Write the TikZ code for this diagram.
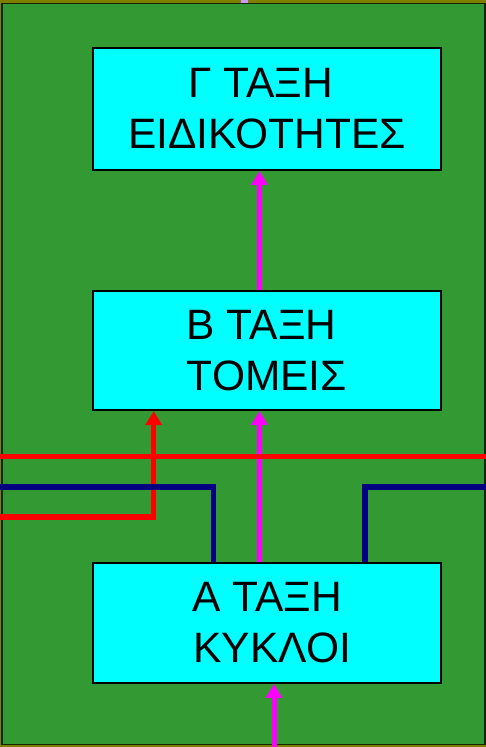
\documentclass[tikz,border=0pt]{standalone}
\usepackage{fontspec}
\setmainfont{Liberation Sans}
\usetikzlibrary{arrows.meta}
\definecolor{bggreen}{RGB}{51,153,51}
\definecolor{frameolive}{RGB}{128,128,0}
\definecolor{framedark}{RGB}{20,36,0}
\definecolor{boxcyan}{RGB}{0,255,255}
\definecolor{navyline}{RGB}{0,0,128}
\definecolor{marker}{RGB}{204,153,255}
\definecolor{magline}{RGB}{255,0,255}
\definecolor{redcol}{RGB}{255,0,0}
\tikzset{
  levelbox/.style={draw=black, line width=2pt, fill=boxcyan, minimum width=348pt,
    inner sep=0pt, align=center, font=\fontsize{42.5}{51}\selectfont},
  magarrow/.style={draw=magline, line width=5pt, -{Triangle[width=16pt,length=14pt]}},
  redline/.style={draw=redcol, line width=5.5pt},
  redarrow/.style={draw=redcol, line width=5.5pt, -{Triangle[width=16pt,length=14pt]}},
  navy/.style={draw=navyline, line width=5.5pt},
}
\begin{document}
\begin{tikzpicture}[x=1pt,y=-1pt]
\useasboundingbox (0,0) rectangle (486,747);
\fill[frameolive] (0,0) rectangle (486,747);
\filldraw[fill=bggreen, draw=framedark, line width=1.5pt] (2,3.5) rectangle (485,744.5);
\fill[marker] (241,0) rectangle (248,3);

\node[levelbox, minimum height=122pt] (C) at (267,109) {Γ ΤΑΞΗ\hspace*{0.3em}\\ΕΙΔΙΚΟΤΗΤΕΣ};
\node[levelbox, minimum height=119pt] (B) at (267,350.5) {Β ΤΑΞΗ\hspace*{0.25em}\\ ΤΟΜΕΙΣ};
\node[levelbox, minimum height=120pt] (A) at (267,623) {Α ΤΑΞΗ\\\hspace*{0.25em}ΚΥΚΛΟΙ};

\coordinate (magCol) at (259.5,0);
\coordinate (inlet) at (274,747);
\coordinate (redW) at (0,456.5);
\coordinate (redE) at (486,456.5);
\coordinate (redL) at (0,517);
\coordinate (redCol) at (153.7,517);
\coordinate (navyW) at (0,487);
\coordinate (navyLcol) at (213.7,487);
\coordinate (navyE) at (486,487);
\coordinate (navyRcol) at (365,487);

\draw[magarrow] (B.north -| magCol) -- (C.south -| magCol);
\draw[magarrow] (A.north -| magCol) -- (B.south -| magCol);
\draw[magarrow] (inlet) -- (inlet |- A.south);

\draw[redline] (redW) -- (redE);
\draw[redarrow] (redL) -- (redCol) -- (redCol |- B.south);

\draw[navy] (navyW) -- (navyLcol) -- (navyLcol |- A.north);
\draw[navy] (navyE) -- (navyRcol) -- (navyRcol |- A.north);
\end{tikzpicture}
\end{document}
